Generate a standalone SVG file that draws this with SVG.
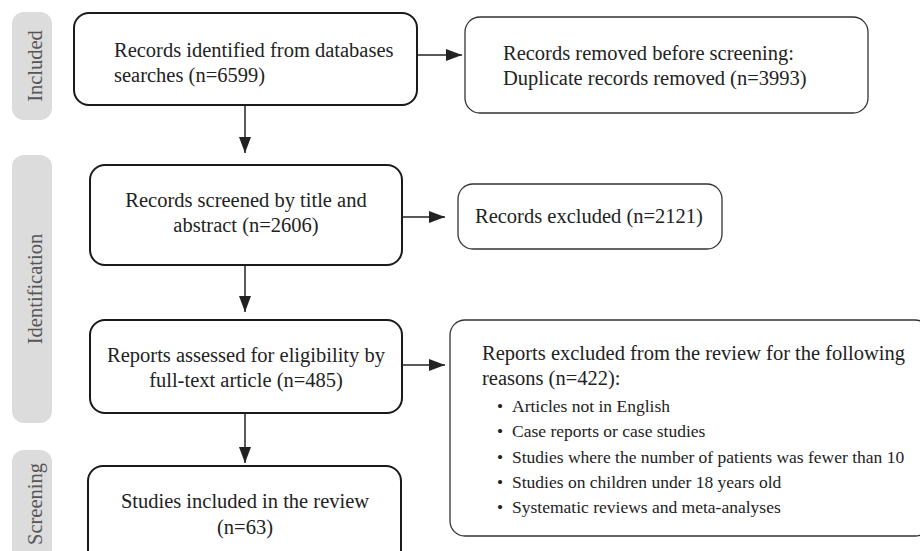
<svg xmlns="http://www.w3.org/2000/svg" width="920" height="551" viewBox="0 0 920 551">
<defs>
<style>
.tab{fill:#dcdcdd;}
.tabt{font-family:"Liberation Serif","Times New Roman",serif;font-size:20.5px;fill:#555;text-anchor:middle;}
.bb{fill:#fff;stroke:#1a1a1a;stroke-width:2;}
.tb{fill:#fff;stroke:#333;stroke-width:1.3;}
.t{font-family:"Liberation Serif","Times New Roman",serif;font-size:20.5px;fill:#222;}
.c{text-anchor:middle;}
.s{font-size:17.5px;}
.ln{stroke:#222;stroke-width:1.5;fill:none;}
</style>
<marker id="ah" viewBox="0 0 10 10" refX="10" refY="5" markerWidth="10" markerHeight="10" markerUnits="userSpaceOnUse" orient="auto">
<path d="M0,0 L10,5 L0,10 Z" fill="#222"/>
</marker>
<marker id="ah2" viewBox="0 0 16 12" refX="16" refY="6" markerWidth="16" markerHeight="12" markerUnits="userSpaceOnUse" orient="auto">
<path d="M0,0 L16,6 L0,12 Z" fill="#222"/>
</marker>
</defs>
<g id="tab-included">
<rect class="tab" x="12" y="12" width="40" height="108" rx="12"/>
<text class="tabt" transform="translate(42,66) rotate(-90)">Included</text>
</g>
<g id="tab-identification">
<rect class="tab" x="12" y="155" width="40" height="268" rx="12"/>
<text class="tabt" transform="translate(42,289) rotate(-90)">Identification</text>
</g>
<g id="tab-screening">
<rect class="tab" x="12" y="450" width="40" height="120" rx="12"/>
<text class="tabt" transform="translate(42,504) rotate(-90)">Screening</text>
</g>
<g id="n1">
<rect class="bb" x="74" y="13" width="343" height="92" rx="15"/>
<text class="t" x="114" y="57">Records identified from databases</text>
<text class="t" x="114" y="82">searches (n=6599)</text>
</g>
<g id="n2">
<rect class="tb" x="465" y="17" width="403" height="96" rx="15"/>
<text class="t" x="503" y="60">Records removed before screening:</text>
<text class="t" x="503" y="85">Duplicate records removed (n=3993)</text>
</g>
<g id="n3">
<rect class="bb" x="90" y="165" width="312" height="100" rx="15"/>
<text class="t c" x="246" y="207">Records screened by title and</text>
<text class="t c" x="246" y="232">abstract (n=2606)</text>
</g>
<g id="n4">
<rect class="tb" x="458" y="184" width="264" height="65" rx="15"/>
<text class="t" x="475" y="223">Records excluded (n=2121)</text>
</g>
<g id="n5">
<rect class="bb" x="90" y="320" width="312" height="93" rx="15"/>
<text class="t c" x="246" y="362">Reports assessed for eligibility by</text>
<text class="t c" x="246" y="387">full-text article (n=485)</text>
</g>
<g id="n6">
<rect class="tb" x="450" y="320" width="480" height="216" rx="15"/>
<text class="t" x="482" y="360">Reports excluded from the review for the following</text>
<text class="t" x="482" y="385">reasons (n=422):</text>
<text class="t s" x="497" y="412">•</text><text class="t s" x="512" y="412">Articles not in English</text>
<text class="t s" x="497" y="437">•</text><text class="t s" x="512" y="437">Case reports or case studies</text>
<text class="t s" x="497" y="463">•</text><text class="t s" x="512" y="463">Studies where the number of patients was fewer than 10</text>
<text class="t s" x="497" y="488">•</text><text class="t s" x="512" y="488">Studies on children under 18 years old</text>
<text class="t s" x="497" y="513">•</text><text class="t s" x="512" y="513">Systematic reviews and meta-analyses</text>
</g>
<g id="n7">
<rect class="bb" x="88" y="466" width="313" height="100" rx="15"/>
<text class="t c" x="245" y="508">Studies included in the review</text>
<text class="t c" x="245" y="534">(n=63)</text>
</g>
<g id="connectors">
<line class="ln" x1="417" y1="55" x2="462" y2="55" marker-end="url(#ah2)"/>
<line class="ln" x1="245" y1="105" x2="245" y2="153" marker-end="url(#ah2)"/>
<line class="ln" x1="402" y1="217" x2="445" y2="217" marker-end="url(#ah2)"/>
<line class="ln" x1="245" y1="265" x2="245" y2="312" marker-end="url(#ah2)"/>
<line class="ln" x1="402" y1="365" x2="445" y2="365" marker-end="url(#ah2)"/>
<line class="ln" x1="245" y1="413" x2="245" y2="463" marker-end="url(#ah2)"/>
</g>
</svg>
